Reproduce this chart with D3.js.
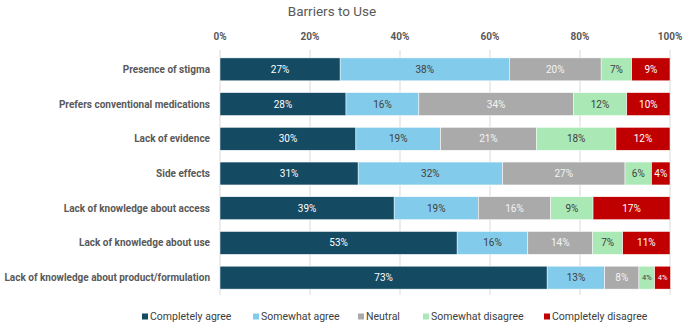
<!DOCTYPE html>
<html>
<head>
<meta charset="utf-8">
<script src="https://cdn.jsdelivr.net/npm/d3@7"></script>
<style>
  body { margin: 0; background: #fff; }
  text { font-family: "Roboto", "Liberation Sans", sans-serif; }
</style>
</head>
<body>
<div id="chart"></div>
<script>
// Data
const categories = [
    "Presence of stigma",
    "Prefers conventional medications",
    "Lack of evidence",
    "Side effects",
    "Lack of knowledge about access",
    "Lack of knowledge about use",
    "Lack of knowledge about product/formulation"
];
const seriesNames = ["Completely agree", "Somewhat agree", "Neutral", "Somewhat disagree", "Completely disagree"];
const completelyAgree    = [26.7, 28.0, 30.2, 30.7, 38.7, 52.7, 72.7];
const somewhatAgree      = [37.6, 16.2, 18.8, 32.1, 18.7, 15.7, 12.8];
const neutral            = [20.4, 34.3, 21.3, 27.2, 16.1, 14.4, 7.6];
const somewhatDisagree   = [6.8, 11.9, 17.7, 5.9, 9.4, 6.7, 3.5];
const completelyDisagree = [8.5, 9.6, 12.0, 4.1, 17.1, 10.5, 3.5];
const xTicks = [0, 20, 40, 60, 80, 100];

const colors = ["#154a63", "#83cbeb", "#aaaaaa", "#aae8b6", "#c00000"];
const labelColors = ["#ffffff", "#404040", "#f4f4f4", "#404040", "#ffffff"];

// Chart dimensions
const width = 685;
const height = 327;
const margin = {top: 52, right: 14, bottom: 32, left: 220};

const svg = d3.select("#chart")
    .append("svg")
    .attr("width", width)
    .attr("height", height);

const x = d3.scaleLinear()
    .domain([0, 100])
    .range([margin.left, width - margin.right - 1]);

const y = d3.scaleBand()
    .domain(categories)
    .range([margin.top, height - margin.bottom])
    .paddingInner(0.34)
    .paddingOuter(0.17);

// Title
svg.append("text")
    .attr("x", 332)
    .attr("y", 16)
    .attr("text-anchor", "middle")
    .attr("fill", "#595959")
    .attr("font-size", 13.5)
    .text("Barriers to Use");

// Gridlines
svg.append("g")
    .selectAll("line")
    .data(xTicks)
    .join("line")
    .attr("x1", d => x(d))
    .attr("x2", d => x(d))
    .attr("y1", margin.top - 2)
    .attr("y2", height - margin.bottom)
    .attr("stroke", "#d9d9d9")
    .attr("stroke-width", 1);

// Top axis labels
svg.append("g")
    .selectAll("text")
    .data(xTicks)
    .join("text")
    .attr("x", d => x(d))
    .attr("y", 40)
    .attr("text-anchor", "middle")
    .attr("fill", "#595959")
    .attr("font-size", 10)
    .attr("font-weight", "bold")
    .text(d => d + "%");

// Category labels
svg.append("g")
    .selectAll("text")
    .data(categories)
    .join("text")
    .attr("x", margin.left - 10)
    .attr("y", d => y(d) + y.bandwidth() / 2)
    .attr("dy", "0.35em")
    .attr("text-anchor", "end")
    .attr("fill", "#595959")
    .attr("font-size", 10)
    .attr("font-weight", "bold")
    .text(d => d);

// Stack the series
const rows = categories.map((c, i) => ({
    category: c,
    "Completely agree": completelyAgree[i],
    "Somewhat agree": somewhatAgree[i],
    "Neutral": neutral[i],
    "Somewhat disagree": somewhatDisagree[i],
    "Completely disagree": completelyDisagree[i]
}));

const stacked = d3.stack().keys(seriesNames)(rows);

const layers = svg.append("g")
    .selectAll("g")
    .data(stacked)
    .join("g")
    .attr("fill", (d, i) => colors[i]);

layers.selectAll("rect")
    .data(d => d)
    .join("rect")
    .attr("x", d => x(d[0]))
    .attr("y", d => y(d.data.category))
    .attr("width", d => x(d[1]) - x(d[0]))
    .attr("height", y.bandwidth())
    .attr("stroke", "#ffffff")
    .attr("stroke-width", 0.5);

// Value labels
stacked.forEach((layer, si) => {
    svg.append("g")
        .selectAll("text")
        .data(layer)
        .join("text")
        .attr("x", d => (x(d[0]) + x(d[1])) / 2)
        .attr("y", d => y(d.data.category) + y.bandwidth() / 2)
        .attr("dy", "0.35em")
        .attr("text-anchor", "middle")
        .attr("fill", labelColors[si])
        .attr("font-size", d => (d[1] - d[0]) < 4 ? 7.5 : 10)
        .text(d => Math.round(d[1] - d[0]) + "%");
});

// Legend
const legendX = [142, 253, 358, 423, 544];
const legend = svg.append("g")
    .selectAll("g")
    .data(seriesNames)
    .join("g")
    .attr("transform", (d, i) => `translate(${legendX[i]},${height - 7})`);

legend.append("rect")
    .attr("x", 0)
    .attr("y", -6.5)
    .attr("width", 6)
    .attr("height", 6)
    .attr("fill", (d, i) => colors[i]);

legend.append("text")
    .attr("x", 8)
    .attr("y", 0)
    .attr("fill", "#404040")
    .attr("font-size", 10.5)
    .text(d => d);
</script>
</body>
</html>
